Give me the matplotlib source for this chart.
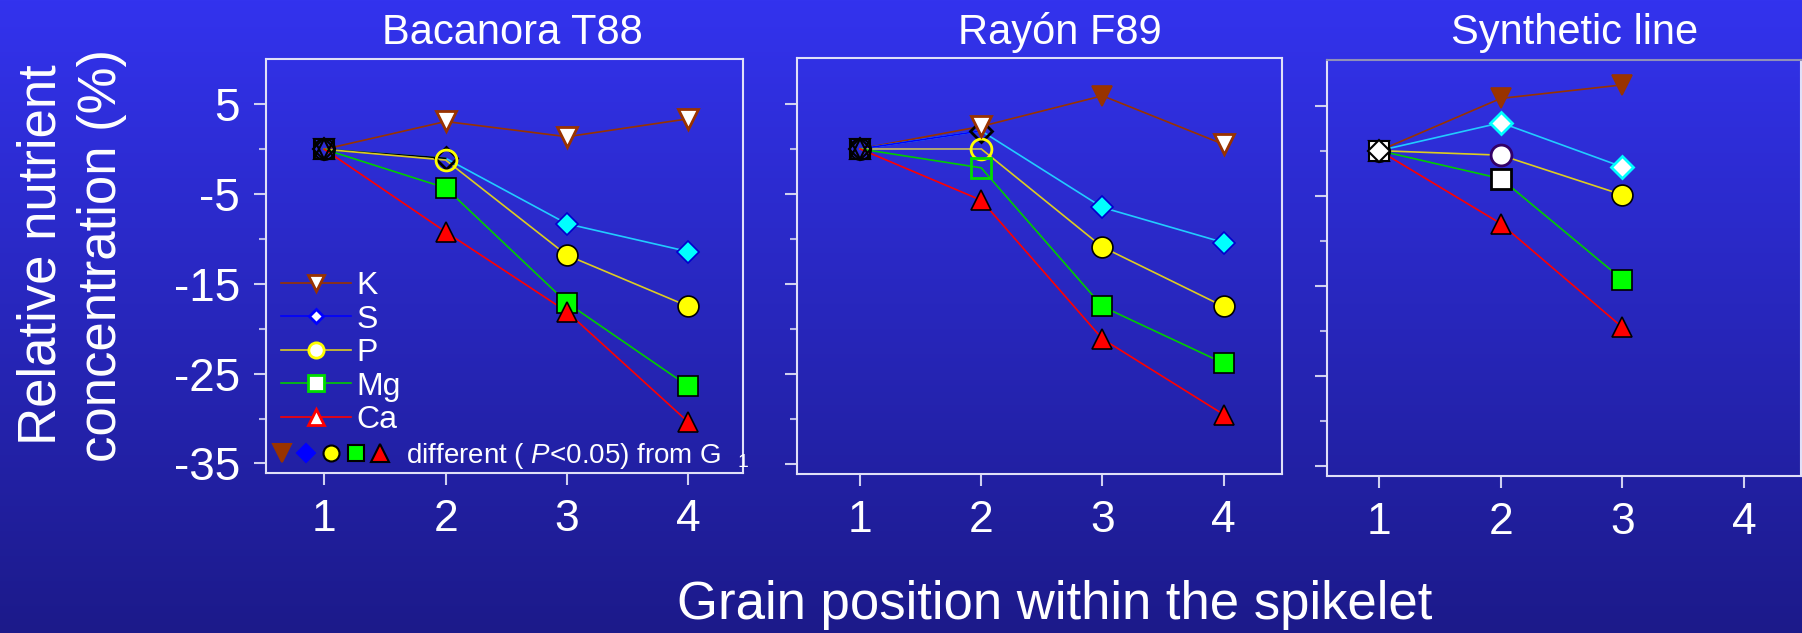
import numpy as np
import matplotlib
matplotlib.use("Agg")
import matplotlib.pyplot as plt
from matplotlib.lines import Line2D
from matplotlib.legend_handler import HandlerTuple

plt.rcParams["font.family"] = ["Liberation Sans", "DejaVu Sans"]
plt.rcParams["mathtext.fontset"] = "custom"
plt.rcParams["mathtext.rm"] = "Liberation Sans"
plt.rcParams["mathtext.it"] = "Liberation Sans:italic"


# ------------------------------------------------------------
# DATA (relative nutrient concentration, % of grain G1)
# ------------------------------------------------------------

positions = [1, 2, 3, 4]
elements = ["K", "S", "P", "Mg", "Ca"]
panel_titles = ["Bacanora T88", "Rayón F89", "Synthetic line"]
y_major = [5, -5, -15, -25, -35]
y_minor = [0, -10, -20, -30]

bacanora_K = [0, 3.1, 1.4, 3.4]
bacanora_S = [0, -1.0, -8.3, -11.4]
bacanora_P = [0, -1.2, -11.8, -17.5]
bacanora_Mg = [0, -4.3, -17.1, -26.4]
bacanora_Ca = [0, -9.2, -18.1, -30.4]

rayon_K = [0, 2.5, 5.9, 0.5]
rayon_S = [0, 2.0, -6.5, -10.4]
rayon_P = [0, 0.0, -10.9, -17.5]
rayon_Mg = [0, -2.1, -17.5, -23.8]
rayon_Ca = [0, -5.7, -21.1, -29.5]

synthetic_K = [0, 5.8, 7.3]
synthetic_S = [0, 3.1, -1.8]
synthetic_P = [0, -0.5, -4.9]
synthetic_Mg = [0, -3.1, -14.3]
synthetic_Ca = [0, -8.1, -19.6]

# 1 = different (P<0.05) from G1 -> filled marker
bacanora_K_sig = [0, 0, 0, 0]
bacanora_S_sig = [0, 0, 1, 1]
bacanora_P_sig = [0, 0, 1, 1]
bacanora_Mg_sig = [0, 1, 1, 1]
bacanora_Ca_sig = [0, 1, 1, 1]

rayon_K_sig = [0, 0, 1, 0]
rayon_S_sig = [0, 0, 1, 1]
rayon_P_sig = [0, 0, 1, 1]
rayon_Mg_sig = [0, 0, 1, 1]
rayon_Ca_sig = [0, 1, 1, 1]

synthetic_K_sig = [0, 1, 1]
synthetic_S_sig = [0, 0, 0]
synthetic_P_sig = [0, 0, 1]
synthetic_Mg_sig = [0, 0, 1]
synthetic_Ca_sig = [0, 1, 1]

panel_values = [
    [bacanora_K, bacanora_S, bacanora_P, bacanora_Mg, bacanora_Ca],
    [rayon_K, rayon_S, rayon_P, rayon_Mg, rayon_Ca],
    [synthetic_K, synthetic_S, synthetic_P, synthetic_Mg, synthetic_Ca],
]
panel_sigs = [
    [bacanora_K_sig, bacanora_S_sig, bacanora_P_sig, bacanora_Mg_sig, bacanora_Ca_sig],
    [rayon_K_sig, rayon_S_sig, rayon_P_sig, rayon_Mg_sig, rayon_Ca_sig],
    [synthetic_K_sig, synthetic_S_sig, synthetic_P_sig, synthetic_Mg_sig, synthetic_Ca_sig],
]


# ------------------------------------------------------------
# STYLES
# ------------------------------------------------------------

W, H = 1802, 633

marker = {"K": "v", "S": "D", "P": "o", "Mg": "s", "Ca": "^"}
msize = {"K": 15, "S": 11, "P": 15, "Mg": 15, "Ca": 15}
line_col = {"K": "#993300", "S": "#22CCFF", "P": "#DDCC22", "Mg": "#00CC00", "Ca": "#FF0000"}
fill_col = {"K": "#993300", "S": "#00FFFF", "P": "#FFFF00", "Mg": "#00FF00", "Ca": "#FF0000"}
fill_edge = {"K": "#993300", "S": "#0000CC", "P": "black", "Mg": "black", "Ca": "black"}
draw_z = {"K": 3.6, "S": 3.1, "P": 3.2, "Mg": 3.3, "Ca": 3.4}

open_12 = {"K": ("white", "#993300"), "S": ("none", "black"), "P": ("none", "#FFFF00"),
           "Mg": ("none", "#00DD00"), "Ca": ("white", "#FF0000")}
open_3 = {"K": ("white", "#993300"), "S": ("white", "#00FFFF"), "P": ("white", "#330066"),
          "Mg": ("white", "black"), "Ca": ("white", "#FF0000")}
open_style = [open_12, open_12, open_3]

# odd first segments in the original (G1 -> G2)
first_seg = [{"S": "black"}, {"S": "#0000FF", "P": "#A8A080"}, {}]

# axes boxes in pixels: left, top, right, bottom
boxes = [(265.7, 59, 743.3, 473.3), (796.7, 58.3, 1282, 474), (1326.7, 60, 1801, 476)]
xlims = [(0.517, 4.453), (0.478, 4.481), (0.567, 4.47)]
ylim = (-36.1, 10.06)
title_x = [512, 1060, 1575]

spine_col = "#E0E0F8"
tick_col = "#D0D0F0"


def px_rect(left, top, right, bottom):
    return [left / W, 1 - bottom / H, (right - left) / W, (bottom - top) / H]


# ------------------------------------------------------------
# FIGURE + GRADIENT BACKGROUND
# ------------------------------------------------------------

fig = plt.figure(figsize=(W / 100, H / 100), dpi=100)

bg = fig.add_axes([0, 0, 1, 1], zorder=-10)
top_rgb = np.array([0x33, 0x33, 0xEE]) / 255
bottom_rgb = np.array([0x1C, 0x1A, 0x8A]) / 255
grad = np.linspace(0, 1, 256)[:, None, None]
bg.imshow(top_rgb + (bottom_rgb - top_rgb) * grad, aspect="auto", extent=[0, 1, 0, 1])
bg.axis("off")


# ------------------------------------------------------------
# PANELS
# ------------------------------------------------------------

axes = []
for i in range(3):
    ax = fig.add_axes(px_rect(*boxes[i]))
    ax.set_facecolor("none")
    axes.append(ax)

    for j, el in enumerate(elements):
        v = panel_values[i][j]
        s = panel_sigs[i][j]
        x = positions[:len(v)]

        ax.plot(x, v, color=line_col[el], lw=1.2, zorder=2)
        if el in first_seg[i]:
            ax.plot(x[:2], v[:2], color=first_seg[i][el], lw=1.2, zorder=2)

        # G1 reference point
        g1_face = "white" if i == 2 else "none"
        g1_z = {"S": 6, "Mg": 5}.get(el, 4)
        ax.plot(x[0], v[0], marker=marker[el], ms=msize[el], mfc=g1_face, mec="black",
                mew=1.5, ls="none", zorder=g1_z)

        for xi, vi, si in zip(x[1:], v[1:], s[1:]):
            if si:
                face, edge, mew = fill_col[el], fill_edge[el], 1.2
            else:
                face, edge = open_style[i][el]
                mew = 2
            ax.plot(xi, vi, marker=marker[el], ms=msize[el], mfc=face, mec=edge,
                    mew=mew, ls="none", zorder=draw_z[el])

    ax.set_xlim(*xlims[i])
    ax.set_ylim(*ylim)
    ax.set_xticks(positions)
    ax.set_xticklabels([str(p) for p in positions])
    ax.set_yticks(y_major)
    ax.set_yticks(y_minor, minor=True)
    if i == 0:
        ax.set_yticklabels([str(t) for t in y_major])
    else:
        ax.set_yticklabels([])

    ax.tick_params(axis="both", which="major", direction="out", length=8.5, width=1.5,
                   color=tick_col, labelcolor="white")
    ax.tick_params(axis="y", which="major", pad=10, labelsize=33)
    ax.tick_params(axis="x", which="major", pad=10, labelsize=32)
    ax.tick_params(axis="y", which="minor", direction="out", length=5, width=1.5, color="#B8B8E8")

    for side in ax.spines:
        ax.spines[side].set_color(spine_col)
        ax.spines[side].set_linewidth(1.5)
    if i == 2:
        ax.spines["top"].set_color("#9090B8")

    fig.text(title_x[i] / W, 1 - 44 / H, panel_titles[i], color="white", fontsize=30,
             ha="center", va="baseline")


# ------------------------------------------------------------
# LEGEND (first panel)
# ------------------------------------------------------------

ax = axes[0]
legend_line = {"K": "#993300", "S": "#0000FF", "P": "#DDCC22", "Mg": "#00CC00", "Ca": "#FF0000"}
legend_edge = {"K": "#993300", "S": "#0000FF", "P": "#FFFF00", "Mg": "#00DD00", "Ca": "#FF0000"}
legend_ms = {"K": 12, "S": 7.5, "P": 11, "Mg": 11, "Ca": 12}

handles = [Line2D([], [], color=legend_line[el], lw=1.2, marker=marker[el], ms=legend_ms[el],
                  mfc="white", mec=legend_edge[el], mew=2) for el in elements]
leg1 = ax.legend(handles, elements, loc="upper left", bbox_to_anchor=(0.032, 0.488),
                 frameon=False, fontsize=23, labelcolor="white", handlelength=2.2,
                 handletextpad=0.16, labelspacing=0.11, borderpad=0, borderaxespad=0,
                 numpoints=1)
ax.add_artist(leg1)

sig_ms = {"K": 13, "S": 9, "P": 11.5, "Mg": 11, "Ca": 12.5}
sig_face = {"K": "#993300", "S": "#0000FF", "P": "#FFFF00", "Mg": "#00FF00", "Ca": "#FF0000"}
sig_edge = {"K": "#993300", "S": "#0000FF", "P": "black", "Mg": "black", "Ca": "black"}
sig_handles = tuple(
    Line2D([], [], ls="none", marker=marker[el], ms=sig_ms[el], mfc=sig_face[el],
           mec=sig_edge[el], mew=1.5)
    for el in elements
)
ax.legend([sig_handles], [r"different ( $\mathit{P}$<0.05) from G  $_1$"], loc="upper left",
          bbox_to_anchor=(0.008, 0.078), frameon=False, fontsize=20, labelcolor="white",
          handlelength=4.43, handletextpad=0.49, borderpad=0, borderaxespad=0, numpoints=1,
          handler_map={tuple: HandlerTuple(ndivide=None, pad=0)})


# ------------------------------------------------------------
# AXIS TITLES
# ------------------------------------------------------------

fig.text(72 / W, 1 - 255 / H, "Relative nutrient\nconcentration (%)", color="white",
         fontsize=38, rotation=90, ha="center", va="center", multialignment="center",
         linespacing=1.27)
fig.text(1055 / W, 1 - 619 / H, "Grain position within the spikelet", color="white",
         fontsize=38, ha="center", va="baseline")

fig.savefig("out.png", dpi=100)
